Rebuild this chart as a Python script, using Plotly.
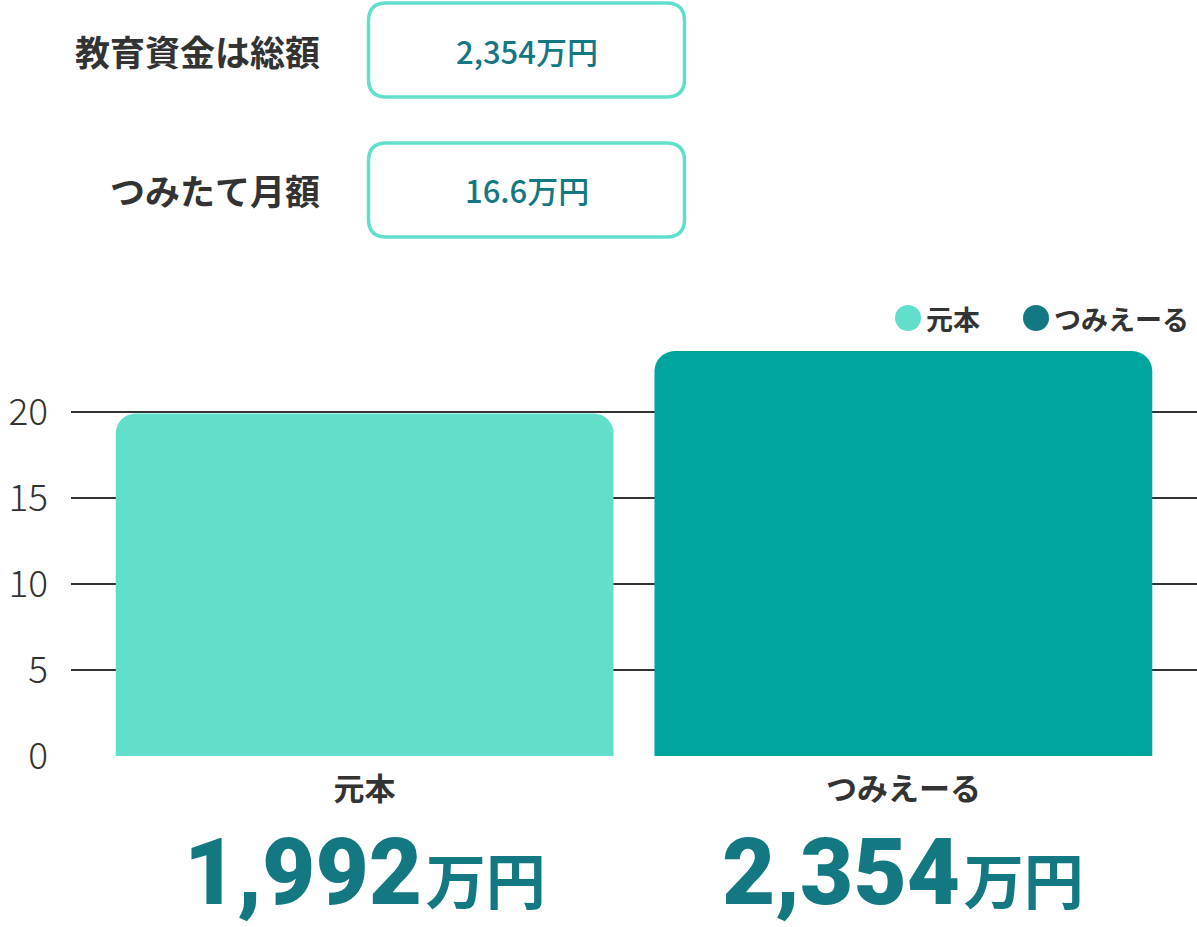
import plotly.graph_objects as go

# data
categories = ["元本", "つみえーる"]
values = [19.92, 23.54]  # 百万円
amount_labels = ["1,992", "2,354"]
bar_colors = ["#61dfcb", "#00a5a0"]
legend_colors = ["#61dfcb", "#137882"]
y_ticks = [0, 5, 10, 15, 20]
summary_labels = ["教育資金は総額", "つみたて月額"]
summary_values = ["2,354万円", "16.6万円"]

W, H = 1197, 927
PLOT_L, PLOT_R, PLOT_T, PLOT_B = 71, 1197, 335, 756
DARK = "#137882"
TEXT = "#333333"
JP = "Noto Sans CJK JP"


def px_x(px):
    return (px - PLOT_L) / (PLOT_R - PLOT_L)


def px_y(py):
    return (PLOT_B - py) / (PLOT_B - PLOT_T)


fig = go.Figure()

fig.add_trace(
    go.Bar(
        x=categories,
        y=values,
        marker=dict(color=bar_colors, line=dict(width=0)),
        showlegend=False,
        hoverinfo="skip",
    )
)

shapes = []
annotations = []

# top summary boxes
for i, (lab, val) in enumerate(zip(summary_labels, summary_values)):
    cy = 50 + i * 140
    hw, hh, r = 158, 47, 18
    path = (
        f"M {-hw + r},{-hh} L {hw - r},{-hh} Q {hw},{-hh} {hw},{-hh + r} "
        f"L {hw},{hh - r} Q {hw},{hh} {hw - r},{hh} L {-hw + r},{hh} "
        f"Q {-hw},{hh} {-hw},{hh - r} L {-hw},{-hh + r} Q {-hw},{-hh} {-hw + r},{-hh} Z"
    )
    shapes.append(dict(
        type="path", xref="paper", yref="paper",
        xsizemode="pixel", ysizemode="pixel",
        xanchor=px_x(526.5), yanchor=px_y(cy),
        path=path, line=dict(color="#61dfcb", width=3.5), fillcolor="white",
    ))
    annotations.append(dict(
        x=px_x(322), y=px_y(cy), xref="paper", yref="paper",
        xanchor="right", yanchor="middle", showarrow=False,
        text=f"<b>{lab}</b>", font=dict(family=JP, size=35, color=TEXT),
    ))
    annotations.append(dict(
        x=px_x(526.5), y=px_y(cy), xref="paper", yref="paper",
        xanchor="center", yanchor="middle", showarrow=False,
        text=val, font=dict(family=JP, size=31, color=DARK, weight=500),
    ))

# hand-made legend with large round markers
legend_pos = [908, 1036]
for name, c, lx in zip(categories, legend_colors, legend_pos):
    shapes.append(dict(
        type="circle", xref="paper", yref="paper",
        xsizemode="pixel", ysizemode="pixel",
        xanchor=px_x(lx), yanchor=px_y(318),
        x0=-13, x1=13, y0=-13, y1=13,
        fillcolor=c, line=dict(width=0),
    ))
    annotations.append(dict(
        x=px_x(lx + 16), y=px_y(318), xref="paper", yref="paper",
        xanchor="left", yanchor="middle", showarrow=False,
        text=f"<b>{name}</b>", font=dict(family=JP, size=27, color=TEXT),
    ))

# big amounts under each bar
for cat, amt in zip(categories, amount_labels):
    annotations.append(dict(
        x=cat, y=px_y(872), xref="x", yref="paper",
        xanchor="center", yanchor="middle", showarrow=False,
        text=(f"<span style='font-family:Roboto;font-weight:900;font-size:92px'>{amt}</span>"
              f"<b><span style='font-size:60px'>\u200a万円</span></b>"),
        font=dict(family=JP, size=60, color=DARK),
    ))

fig.update_layout(
    width=W, height=H,
    margin=dict(l=PLOT_L, r=W - PLOT_R, t=PLOT_T, b=H - PLOT_B, pad=0),
    paper_bgcolor="white", plot_bgcolor="white",
    bargap=0.076,
    barcornerradius=20,
    font=dict(family=JP, color=TEXT),
    shapes=shapes,
    annotations=annotations,
    showlegend=False,
    xaxis=dict(
        range=[-0.545, 1.545], showgrid=False, zeroline=False, showline=False,
        tickvals=categories, ticktext=[f"<b>{c}</b>" for c in categories],
        tickfont=dict(family=JP, size=31, color=TEXT), ticklabelstandoff=12,
    ),
    yaxis=dict(
        range=[0, (PLOT_B - PLOT_T) / 17.2], tickvals=y_ticks,
        showgrid=True, gridcolor="#333333", gridwidth=1.8,
        zeroline=False, showline=False, layer="above traces",
        tickfont=dict(family=JP, size=37, color=TEXT, weight=300), ticklabelstandoff=22,
    ),
)

fig.write_html(
    "out.html",
    config={"displayModeBar": False},
    post_script="document.body.style.margin='0px';",
)
